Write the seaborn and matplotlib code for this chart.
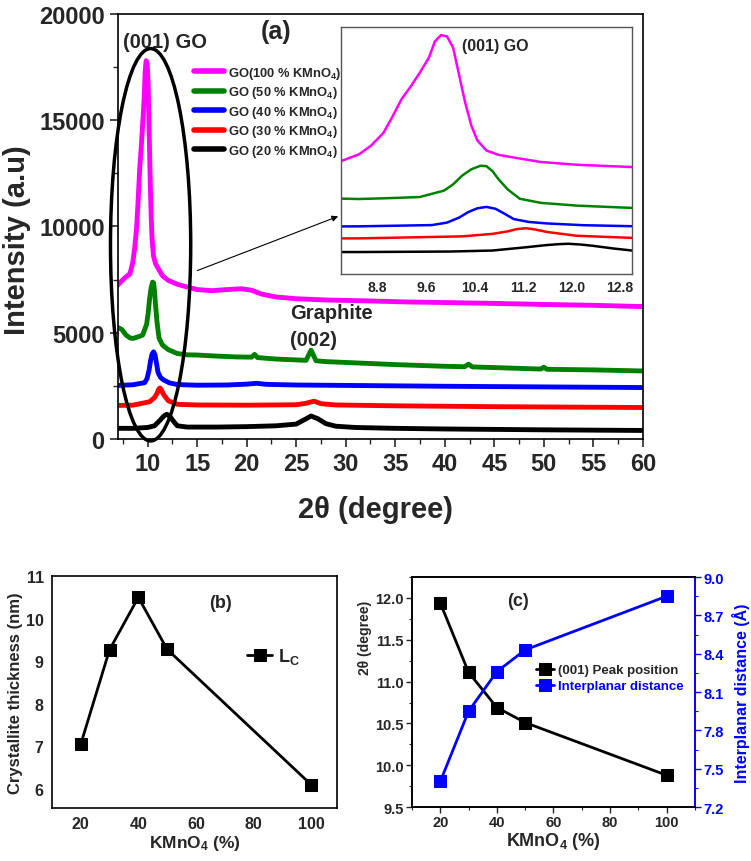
import matplotlib
matplotlib.use("Agg")
import matplotlib.pyplot as plt
from matplotlib.patches import Ellipse
from matplotlib.ticker import MultipleLocator
import seaborn as sns

# --- (a) XRD patterns ---
x_100 = [7.0, 7.5, 8.0, 8.2, 8.5, 8.7, 8.9, 9.05, 9.2, 9.35, 9.5, 9.65, 9.75, 9.85, 9.95, 10.05, 10.15, 10.25,
         10.35, 10.45, 10.6, 10.8, 11.0, 11.5, 12.1, 13.0, 14.0, 15.0, 16.5, 18.0, 19.5, 20.5, 21.5, 23.0, 25.0,
         28.0, 32.0, 36.0, 40.0, 45.0, 50.0, 55.0, 60.0]
y_100 = [7250, 7500, 7700, 7750, 8300, 9000, 10000, 11300, 12700, 13700, 14800, 16000, 17300, 17800, 17700, 16800,
         14600, 12400, 10600, 9400, 8600, 8250, 8080, 7680, 7460, 7280, 7150, 7030, 6980, 7030, 7070, 7000, 6820,
         6680, 6600, 6540, 6500, 6450, 6420, 6380, 6330, 6290, 6230]

x_50 = [7.0, 7.4, 7.8, 8.2, 8.5, 9.0, 9.5, 9.9, 10.05, 10.2, 10.35, 10.5, 10.6, 10.7, 10.8, 10.95, 11.15, 11.5,
        12.1, 13.0, 14.0, 15.0, 17.0, 19.0, 20.5, 20.8, 21.1, 23.0, 25.0, 26.0, 26.5, 27.0, 28.0, 30.0, 35.0, 40.0,
        42.0, 42.4, 42.8, 45.0, 49.7, 50.0, 50.3, 55.0, 60.0]
y_50 = [5250, 5150, 4900, 4760, 4730, 4800, 4890, 5400, 5900, 6600, 7100, 7380, 7350, 6950, 6300, 5500, 4750, 4420,
        4200, 4020, 3960, 3950, 3900, 3860, 3850, 3980, 3830, 3760, 3720, 3700, 4180, 3680, 3640, 3600, 3500, 3420,
        3400, 3520, 3390, 3360, 3290, 3380, 3280, 3250, 3200]

x_40 = [7.0, 8.5, 9.7, 9.95, 10.15, 10.3, 10.45, 10.6, 10.75, 10.9, 11.05, 11.3, 11.6, 12.2, 13.0, 15.0, 18.0, 20.0,
        21.0, 22.0, 25.0, 30.0, 40.0, 50.0, 60.0]
y_40 = [2520, 2550, 2650, 2850, 3250, 3690, 3990, 4100, 3950, 3550, 3130, 2900, 2780, 2640, 2560, 2530, 2540, 2580,
        2620, 2570, 2540, 2520, 2480, 2450, 2420]

x_30 = [7.0, 8.5, 10.2, 10.7, 10.95, 11.1, 11.25, 11.4, 11.6, 12.08, 13.0, 15.0, 20.0, 25.0, 26.0, 26.8, 27.5, 29.0,
        35.0, 45.0, 60.0]
y_30 = [1580, 1590, 1750, 1950, 2150, 2330, 2400, 2300, 2100, 1800, 1630, 1600, 1590, 1610, 1680, 1780, 1660, 1600,
        1560, 1520, 1480]

x_20 = [7.0, 8.5, 10.0, 10.7, 11.25, 11.6, 11.8, 11.95, 12.15, 12.35, 12.7, 13.0, 14.0, 17.0, 20.0, 23.0, 25.0, 26.0,
        26.5, 27.2, 28.0, 29.0, 31.0, 35.0, 40.0, 50.0, 60.0]
y_20 = [500, 500, 540, 620, 880, 1060, 1130, 1160, 1100, 1000, 780, 620, 560, 560, 580, 620, 700, 950,
        1080, 950, 720, 600, 540, 500, 470, 430, 400]

series = [
    ("GO(100 % KMnO$_4$)", x_100, y_100, "#ff00ff"),
    ("GO (50 % KMnO$_4$)", x_50, y_50, "#008000"),
    ("GO (40 % KMnO$_4$)", x_40, y_40, "#0000ff"),
    ("GO (30 % KMnO$_4$)", x_30, y_30, "#ff0000"),
    ("GO (20 % KMnO$_4$)", x_20, y_20, "#000000"),
]

# --- (b) and (c) ---
kmno4 = [20, 30, 40, 50, 100]
lc_nm = [7.05, 9.27, 10.5, 9.28, 6.1]
peak_pos = [11.94, 11.11, 10.69, 10.51, 9.88]
d_spacing = [7.40, 7.95, 8.26, 8.43, 8.85]

sns.set_style("ticks")
plt.rcParams["font.family"] = ["Liberation Sans", "DejaVu Sans"]
plt.rcParams["font.weight"] = "bold"
plt.rcParams["axes.labelweight"] = "bold"
plt.rcParams["mathtext.fontset"] = "custom"
plt.rcParams["mathtext.rm"] = "Liberation Sans:bold"
plt.rcParams["mathtext.default"] = "rm"
plt.rcParams["axes.edgecolor"] = "black"
plt.rcParams["axes.linewidth"] = 1.2

fig = plt.figure(figsize=(7.51, 8.62), dpi=100)

# ---------- panel (a) ----------
ax = fig.add_axes([0.157, 0.4896, 0.699, 0.493])
for lab, xs, ys, c in series:
    sns.lineplot(x=xs, y=ys, ax=ax, color=c, lw=3.5, label=lab, sort=False)
ax.set_xlim(7, 60)
ax.set_ylim(0, 20000)
ax.xaxis.set_major_locator(MultipleLocator(5))
ax.xaxis.set_minor_locator(MultipleLocator(2.5))
ax.yaxis.set_major_locator(MultipleLocator(5000))
ax.yaxis.set_minor_locator(MultipleLocator(2500))
ax.tick_params(which="major", direction="out", length=6, width=1.2, labelsize=17)
ax.tick_params(which="minor", direction="out", length=3.5, width=1.0)
ax.set_xlabel("2θ (degree)", fontsize=21)
ax.set_ylabel("Intensity (a.u)", fontsize=21)
ax.xaxis.set_label_coords(0.49, -0.132)
ax.yaxis.set_label_coords(-0.166, 0.47)

ax.legend(loc="center left", bbox_to_anchor=(0.145, 0.77), frameon=False, fontsize=9.3,
          handlelength=2.3, handletextpad=0.35, labelspacing=0.28, borderpad=0, borderaxespad=0)
for h in ax.get_legend().get_lines():
    h.set_linewidth(4)

ax.text(11.8, 18700, "(001) GO", ha="center", va="center", fontsize=14.5)
ax.text(23.0, 19200, "(a)", ha="center", va="center", fontsize=18)
ax.text(24.4, 5950, "Graphite", ha="left", va="center", fontsize=14.5)
ax.text(24.4, 4670, "(002)", ha="left", va="center", fontsize=14.5)

ell = Ellipse((10.3, 9140), 8.1, 18465, fill=False, ec="black", lw=2.5, clip_on=False, zorder=10)
ax.add_patch(ell)
ax.annotate("", xy=(29.5, 10525), xytext=(14.77, 7880),
            arrowprops=dict(arrowstyle="-|>", lw=0.8, color="black", mutation_scale=9), zorder=11)

# inset
axi = fig.add_axes([0.454, 0.681, 0.3875, 0.2865])
for lab, xs, ys, c in series:
    sns.lineplot(x=xs, y=ys, ax=axi, color=c, lw=1.8, sort=False, legend=False)
axi.set_xlim(8.2, 13.0)
axi.set_ylim(-1250, 18450)
axi.set_xticks([8.8, 9.6, 10.4, 11.2, 12.0, 12.8])
axi.set_xticklabels(["8.8", "9.6", "10.4", "11.2", "12.0", "12.8"])
axi.set_yticks([])
axi.tick_params(axis="x", length=0, labelsize=10, pad=4)
for s in axi.spines.values():
    s.set_color("#555555")
    s.set_linewidth(1.0)
axi.text(10.2, 17000, "(001) GO", ha="left", va="center", fontsize=11.5)
axi.set_xlabel("")
axi.set_ylabel("")

# ---------- panel (b) ----------
axb = fig.add_axes([0.0692, 0.0615, 0.3795, 0.269])
sns.lineplot(x=kmno4, y=lc_nm, ax=axb, color="black", lw=2, marker="s", markersize=8,
             markeredgecolor="black", label="L$_C$")
axb.set_xlim(10, 109)
axb.set_ylim(5.55, 11)
axb.set_xticks([20, 40, 60, 80, 100])
axb.set_yticks([6, 7, 8, 9, 10, 11])
axb.tick_params(length=0, labelsize=11.5, pad=6)
axb.set_xlabel("KMnO$_4$ (%)", fontsize=12.5)
axb.set_ylabel("Crystallite thickness (nm)", fontsize=12)
axb.xaxis.set_label_coords(0.5, -0.11)
axb.yaxis.set_label_coords(-0.1, 0.5)
axb.text(0.59, 0.888, "(b)", transform=axb.transAxes, ha="center", va="center", fontsize=13)
axb.legend(loc="center left", bbox_to_anchor=(0.684, 0.655), frameon=False, fontsize=13,
           handlelength=1.4, handletextpad=0.3, borderpad=0, borderaxespad=0)

# ---------- panel (c) ----------
axc = fig.add_axes([0.5486, 0.0626, 0.3768, 0.2668])
ax2 = axc.twinx()
sns.lineplot(x=kmno4, y=peak_pos, ax=axc, color="black", lw=2, marker="s", markersize=8,
             markeredgecolor="black", label="(001) Peak position", legend=False)
sns.lineplot(x=kmno4, y=d_spacing, ax=ax2, color="#0000ff", lw=2, marker="s", markersize=8,
             markeredgecolor="#0000ff", label="Interplanar distance", legend=False)
axc.set_xlim(10, 110)
axc.set_ylim(9.5, 12.25)
ax2.set_ylim(7.2, 9.0)
axc.xaxis.set_major_locator(MultipleLocator(20))
axc.xaxis.set_minor_locator(MultipleLocator(10))
axc.yaxis.set_major_locator(MultipleLocator(0.5))
axc.yaxis.set_minor_locator(MultipleLocator(0.25))
ax2.yaxis.set_major_locator(MultipleLocator(0.3))
ax2.yaxis.set_minor_locator(MultipleLocator(0.15))
axc.tick_params(which="major", direction="out", length=4, width=1, labelsize=10.5, pad=2)
axc.tick_params(which="minor", direction="out", length=2.5, width=0.8)
ax2.tick_params(which="major", direction="out", length=4, width=1, labelsize=10.5, colors="#0000ff", pad=2)
ax2.tick_params(which="minor", direction="out", length=2.5, width=0.8, colors="#0000ff")
ax2.spines["right"].set_color("#0000ff")
axc.spines["right"].set_color("#0000ff")
axc.set_xlabel("KMnO$_4$ (%)", fontsize=13)
axc.set_ylabel("2θ (degree)", fontsize=10)
ax2.set_ylabel("Interplanar distance (Å)", fontsize=11.5, color="#0000ff")
axc.xaxis.set_label_coords(0.5, -0.1)
axc.yaxis.set_label_coords(-0.141, 0.74)
ax2.yaxis.set_label_coords(1.132, 0.5)
axc.text(0.375, 0.9, "(c)", transform=axc.transAxes, ha="center", va="center", fontsize=13)
hs = axc.get_lines() + ax2.get_lines()
leg = ax2.legend(hs, ["(001) Peak position", "Interplanar distance"], loc="center left",
                 bbox_to_anchor=(0.438, 0.56), frameon=False, fontsize=9.5, handlelength=1.4,
                 handletextpad=0.3, labelspacing=0.3, borderpad=0, borderaxespad=0)
leg.get_texts()[1].set_color("#0000ff")

fig.savefig("out.png", dpi=100)
